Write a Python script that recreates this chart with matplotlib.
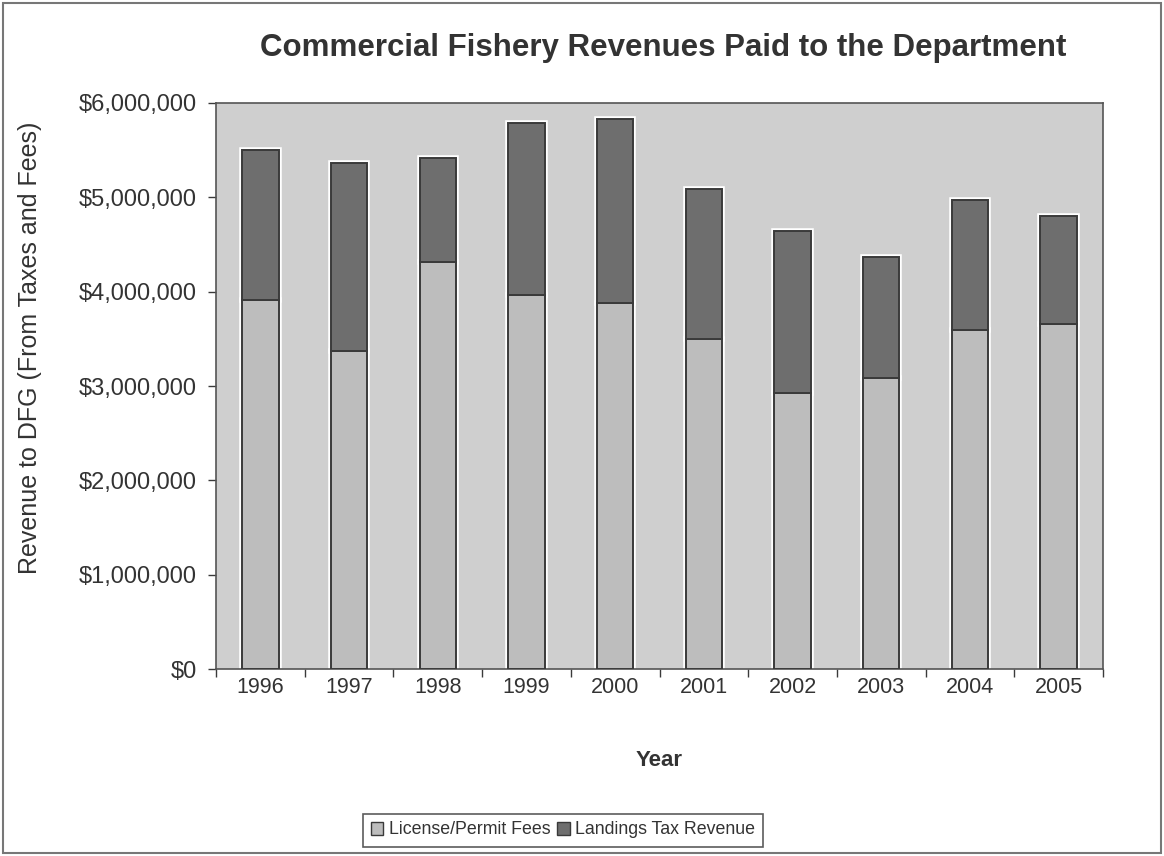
import numpy as np
import matplotlib
matplotlib.use("Agg")
import matplotlib.pyplot as plt
from matplotlib.patches import Patch, Rectangle
from matplotlib.ticker import FuncFormatter

plt.rcParams["font.family"] = ["Liberation Sans", "DejaVu Sans"]

YEARS = ["1996", "1997", "1998", "1999", "2000", "2001", "2002", "2003", "2004", "2005"]
# values in dollars
LICENSE = [3910000, 3370000, 4310000, 3960000, 3880000, 3500000, 2930000, 3090000, 3590000, 3660000]
TOTAL = [5500000, 5360000, 5420000, 5790000, 5830000, 5090000, 4640000, 4370000, 4970000, 4800000]
LANDINGS = [t - l for t, l in zip(TOTAL, LICENSE)]

INK = "#333333"
BG = "#cfcfcf"
LIGHT = "#bdbdbd"
DARK = "#6e6e6e"
EDGE = "#3a3a3a"

fig = plt.figure(figsize=(11.64, 8.56), dpi=100)
ax = fig.add_axes([216 / 1164, 1 - 669 / 856, (1103 - 216) / 1164, (669 - 103) / 856])
ax.set_facecolor(BG)

x = np.arange(len(YEARS))
w = 0.41
# white halo under the bars, then the bars themselves
ax.bar(x, LICENSE, w, color=LIGHT, edgecolor="white", lw=4, zorder=2)
ax.bar(x, LANDINGS, w, bottom=LICENSE, color=DARK, edgecolor="white", lw=4, zorder=2)
ax.bar(x, LICENSE, w, color=LIGHT, edgecolor=EDGE, lw=1.4, zorder=3)
ax.bar(x, LANDINGS, w, bottom=LICENSE, color=DARK, edgecolor=EDGE, lw=1.4, zorder=3)

ax.set_xlim(-0.5, len(YEARS) - 0.5)
ax.set_ylim(0, 6000000)
ax.set_yticks(np.arange(0, 6000001, 1000000))
ax.yaxis.set_major_formatter(FuncFormatter(lambda v, p: f"${v:,.0f}"))
ax.set_xticks(x)
ax.set_xticklabels(YEARS)
ax.set_xticks(np.arange(-0.5, len(YEARS)), minor=True)
ax.tick_params(axis="x", which="major", length=0, pad=6, labelsize=15.5, colors=INK)
ax.tick_params(axis="x", which="minor", length=6, width=1, direction="out", color=EDGE)
ax.tick_params(axis="y", length=6, width=1, direction="out", pad=8, labelsize=17, colors=INK)
ax.tick_params(axis="y", color=EDGE)

for s in ax.spines.values():
    s.set_color("#555555")
    s.set_linewidth(1.2)

ax.set_xlabel("Year", fontsize=16, fontweight="bold", color=INK, labelpad=37)
fig.text(30 / 1164, 1 - 348 / 856, "Revenue to DFG (From Taxes and Fees)", rotation=90,
         ha="center", va="center", fontsize=18, color=INK)
fig.text(663 / 1164, 1 - 48 / 856, "Commercial Fishery Revenues Paid to the Department",
         ha="center", va="center", fontsize=22.5, fontweight="bold", color=INK)

handles = [Patch(facecolor=LIGHT, edgecolor=EDGE, label="License/Permit Fees"),
           Patch(facecolor=DARK, edgecolor=EDGE, label="Landings Tax Revenue")]
leg = fig.legend(handles=handles, loc="center", bbox_to_anchor=(563 / 1164, 1 - 830 / 856),
                 ncol=2, fontsize=12.8, frameon=True, fancybox=False, handlelength=0.7,
                 handleheight=0.7, handletextpad=0.3, columnspacing=0.4, borderpad=0.45)
leg.get_frame().set_edgecolor("#333333")
leg.get_frame().set_linewidth(1.2)
for t in leg.get_texts():
    t.set_color(INK)

# outer frame of the chart
fig.patches.append(Rectangle((0.003, 0.003), 0.994, 0.994, transform=fig.transFigure,
                             fill=False, edgecolor="#777777", lw=1.5))

fig.savefig("out.png", dpi=100)
